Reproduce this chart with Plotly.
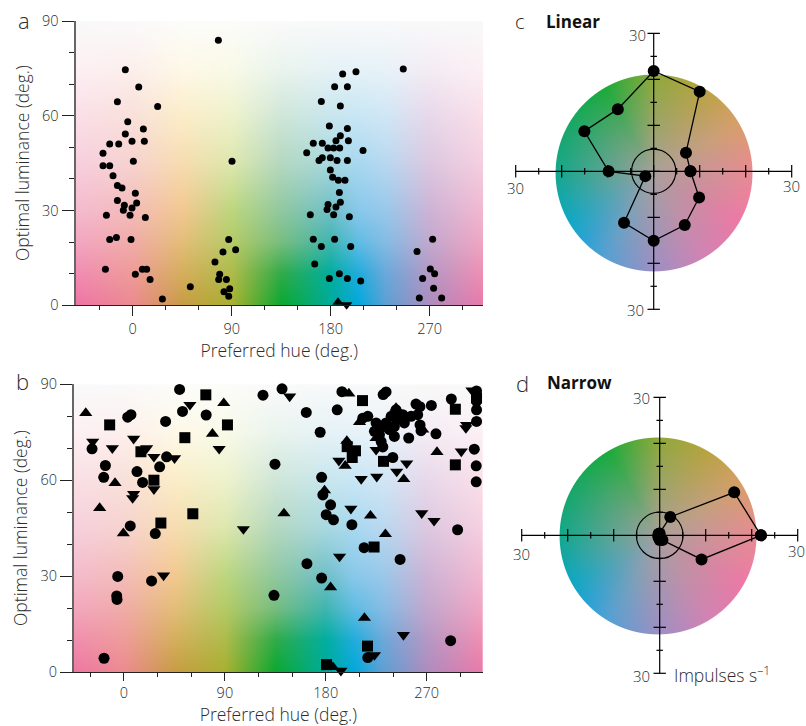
import numpy as np
import plotly.graph_objects as go

W, H = 806, 726
FONT = "Open Sans"
TXT = "#2c2c2c"

# Panel a
a_circle_x = [-6.7,5.5,-13.9,22.7,-4.5,9.7,-6.7,-0.6,10.6,-20.9,-12.7,-27,-27,-20.9,0.6,-17.9,-13.9,-9.7,2.4,-13.9,-7.6,3.6,-0.6,-8.5,-2.4,-23.9,11.5,-20.9,-14.8,-1.5,-24.8,2.4,8.8,12.7,15.8,27,
  77.9,90.3,87.3,93.6,82.1,74.8,79.1,78.2,85.2,88.2,83,87.3,52.4,
  203,190.9,183.6,195.2,171.5,188.8,178.8,195.2,188.8,184.8,196.1,164.2,172.4,177.6,182.7,188.2,209.4,158.2,172.4,179.7,169.4,185.8,195.2,179.7,181.8,187,193,187.9,188.8,177.6,176.7,184.8,182.7,161.5,197,164.2,183.6,171.5,198.2,165.5,187.9,178.8,195.2,207.3,
  246,272.7,258.5,270.6,274.5,263.6,273.6,260.6,280.9]
a_circle_y = [74.6,69.1,64.4,62.9,58.1,55.8,54.2,51.9,51.9,51.1,51.1,48.1,44.2,44.2,45.6,41,37.9,37.1,35.5,33.2,31.7,32.4,30.8,30.1,28.5,28.5,27.8,20.8,21.5,20.8,11.4,9.8,11.4,11.4,8.2,2,
  83.9,45.6,20.8,17.6,16.9,13.7,9.8,8.2,8.2,5.2,4.3,2.9,5.9,
  73.9,73.2,69.2,69.2,64.5,63.1,56.8,56,53.7,52.1,52.1,51.3,51.3,49.8,49.8,49.8,49,48.3,46.7,46.7,45.8,45.8,45.8,42.8,40.5,39.6,39.6,35.7,32.6,31.9,30.3,31.1,28.7,28.7,28,20.9,20.9,18.6,18.6,13.1,10,8.5,8.5,7.7,
  74.8,20.9,17,11.5,10,8.5,5.4,2.3,2.3]
a_up_x, a_up_y = [186.7], [1]
a_down_x, a_down_y = [194.5], [0.2]

# Panel b
b_circle_x = [49.6,124,141,194.4,233.8,231.2,292,314.5,314.5,314.5,314.5,314.5,312.5,314.2,314.2,297.6,291.4,52.2,73.3,37.1,6.2,3.3,162.6,190.2,175,274.2,260.5,264,278.3,254,265,239.8,230.9,223.4,213,217.5,224.9,
  233.8,238.3,242.7,245.7,241.2,236.8,241.2,250.1,256.1,262,264.1,242.7,248.7,230.9,227.9,229.4,
  -28.5,-16.6,-18.1,11.6,16.6,31.8,38,5.6,27.9,-5.6,24.6,-6.5,-6.2,-17.8,134.7,176.3,177.4,184.3,180.4,186.9,203.3,214.2,246.3,163.2,176.3,133.8,217.5]
b_circle_y = [88.4,86.6,88.6,87.7,87.6,86.8,85.4,87.9,86.2,84.7,82,78.4,69.7,64.5,59.5,44.5,9.8,81.5,80.4,78.4,80.5,79.7,81.2,82,75,83.4,83.8,83,74.5,73.2,75.5,67.1,70.4,75.3,79.4,80,77.9,
  77.9,80,82,79.4,76.8,75.8,73.7,77.9,80,80.5,77.3,79.4,80.5,76.8,74.2,72.1,
  69.8,64.6,60.9,62.7,59.3,64.2,67.3,45.7,43.3,29.9,28.5,23.8,22.7,4.3,65,60.9,55.4,52.3,49.2,47.6,46.1,38.9,35.2,33.9,29.4,24,4.5]
b_square_x = [73,212.8,295.6,-12.8,92.3,54.3,15.1,26.7,61.4,32.9,199.1,206.5,203.6,231.5,295.6,223.1,217.2,180.7,314.5]
b_square_y = [86.7,84.9,82.2,77.3,77.3,73.3,68.9,60,49.5,46.6,70.5,69.2,67.1,65.9,64.8,39.1,8.1,2.3,85.7]
b_up_x = [-34.1,89,78.9,-8,-21.7,-0.6,142.7,200.6,210.1,198.8,197.3,178.9,279.2,249.6,219.9,233.2,184.3,214.5,186.4,242.7,266.5,224.9]
b_up_y = [81,84.1,74.5,59.1,51.3,43.4,49.6,87.1,78.2,72.3,64.5,56.8,68.8,60.3,48.9,43.1,26.5,16.9,1.5,82.6,75.8,73.2]
b_down_x = [58.8,147.8,310.4,305,-27.9,-10.4,8.6,20.2,26.7,45.1,84.9,8.6,7.7,26.7,106.5,35.3,191.7,211.6,225.5,243.3,252.2,224.9,300.9,202.4,265.6,276.6,192.3,249.3,223.4,193.5,305.6]
b_down_y = [83.6,86.2,88.1,76.3,72.1,70,73,70,67.3,66.9,69.8,55.7,54.4,57.2,44.7,30.2,66.1,60.4,61.1,62.7,65.3,69.5,69,51.1,49.7,47.3,36.1,11.6,5.3,0.4,77.3]

# Polar tuning panels: response per hue direction
hue_deg = [0,30,60,90,120,150,180,210,240,270,300,330]
c_rate = [8,8.1,20,21.8,15.6,17.4,9.8,2.1,12.9,15.1,13.5,11.4]
d_rate = [22,18.7,4.6,0.4,0.4,0.3,0.2,0.3,0.5,1.0,1.2,10.5]
c_spont, d_spont = 4.8, 5.07

# Colour field behind panels a and b (hue by luminance)
bg_hue = [-52,0,45,90,135,180,205,230,270,320]
bg_lum = [0,10,20,30,45,60,75,90]
bg_cols = [
 ["#ee74a6","#ec8a90","#c79c44","#a9b030","#0aa830","#00ab9a","#00a8dc","#5c9fd4","#ad8cbe","#ec78a8"],
 ["#f08cb2","#ee9b98","#d5ae5c","#aebb4a","#30ab48","#00ae9f","#20acdc","#6aa8da","#b498c4","#f08eb2"],
 ["#f3a6c2","#f0aca8","#e4bd78","#b4cb66","#78bd80","#40b5b0","#60bce4","#84bce4","#c2a8ce","#f2a6c2"],
 ["#f4bad0","#f3bcb8","#f2c890","#bcd67e","#90c8a0","#70bfc8","#88c8ea","#98c8ea","#cdb3d5","#f3b8d0"],
 ["#f7cfdf","#f6d3cf","#f7dcb0","#dde7ad","#b4d8c0","#a8d8e0","#a8d8f0","#b8d8f0","#dcc8e0","#f6cfe0"],
 ["#fadfe8","#f9e0da","#fbedc8","#eef2cc","#cfe6d8","#c8e6ee","#c8e6f4","#d0e6f5","#e8d8ea","#fadfe8"],
 ["#fcf0f4","#fcefec","#fef8e8","#f8fae8","#eaf4ee","#e6f2f6","#e6f2f8","#e8f2f8","#f4ecf4","#fcf0f4"],
 ["#f9f9f9","#fafafa","#fcfcfa","#fcfcfa","#fafafa","#f9f9f9","#f9f9f9","#f9f9f9","#f9f9f9","#f9f9f9"],
]
# Colour wheel behind panels c and d
rim_deg = [0,30,60,90,120,150,180,210,225,240,270,300,330,360]
rim_cols = ["#e98a94","#d99e6a","#b8a340","#8ea83a","#1aab3a","#16a765","#12a78c","#0ea7c6","#2aa2d6","#55a0d4","#9c8fc4","#d282b4","#ee78a6","#e98a94"]
wheel_centre = "#a8a09c"

def rgb(h):
    h = h.lstrip("#")
    return [int(h[i:i+2], 16) for i in (0, 2, 4)]

def field_image(xr, w, h):
    grid = np.array([[rgb(c) for c in row] for row in bg_cols], float)
    xs = np.linspace(xr[0], xr[1], w, endpoint=False) + (xr[1]-xr[0])/w/2
    ys = (np.arange(h)+0.5)*90/h
    along = np.stack([[np.interp(xs, bg_hue, grid[j,:,k]) for k in range(3)] for j in range(len(bg_lum))])
    out = np.stack([[np.interp(ys, bg_lum, along[:,k,i]) for i in range(w)] for k in range(3)])
    return np.moveaxis(out, [0,1,2], [2,1,0]).round().astype(np.uint8), xs[0], ys[0], xs[1]-xs[0], ys[1]-ys[0]

def wheel_image(cx, cy, R, step):
    n = int(round(2*(R+1)/step))
    c = (np.arange(n)+0.5)*step-(R+1)
    X, Y = np.meshgrid(c, c)
    r = np.hypot(X, Y)/R
    th = np.degrees(np.arctan2(Y, X)) % 360
    rim = np.array([rgb(c_) for c_ in rim_cols], float)
    mid = np.array(rgb(wheel_centre), float)
    f = np.clip(r, 0, 1)[..., None]**0.9
    col = np.stack([np.interp(th, rim_deg, rim[:,k]) for k in range(3)], -1)
    out = mid + (col-mid)*f
    alpha = np.clip((1-r)*R/step+0.5, 0, 1)
    z = np.dstack([out.round(), alpha])
    return z, cx+c[0], cy+c[0], step

def dom(l, r, t, b):
    return [l/W, r/W], [1-b/H, 1-t/H]

fig = go.Figure()
AX = dict(showgrid=False, zeroline=False, fixedrange=True, automargin=False)

def cart_axes(n, px, xr, yr, xstand, xtick):
    xd, yd = dom(*px)
    fnt = dict(family=FONT, size=14.5, color=TXT, weight=300)
    tf = dict(family=FONT, size=17.5, color=TXT, weight=300)
    fig.update_layout({
      f"xaxis{n}": dict(AX, domain=xd, range=xr, anchor=f"y{n}", tick0=0, dtick=90, ticks="outside", ticklen=xtick, tickwidth=1, tickcolor="#222",
                        minor=dict(dtick=30, tick0=0, ticks="outside", ticklen=4, tickwidth=1, tickcolor="#222"),
                        showline=True, linecolor="#222", linewidth=1, tickfont=fnt,
                        title=dict(text="Preferred hue (deg.)", font=tf, standoff=xstand)),
      f"yaxis{n}": dict(AX, domain=yd, range=yr, anchor=f"x{n}", tick0=0, dtick=30, ticks="outside", ticklen=12, tickwidth=1, tickcolor="#222",
                        minor=dict(dtick=10, tick0=0, ticks="outside", ticklen=5, tickwidth=1, tickcolor="#222"),
                        showline=True, linecolor="#666", linewidth=2, tickfont=fnt, scaleanchor=False,
                        title=dict(text="Optimal luminance (deg.)", font=tf, standoff=8)),
    })

def field(n, xr, w, h):
    z, x0, y0, dx, dy = field_image(xr, w, h)
    fig.add_trace(go.Image(z=z, x0=x0, y0=y0, dx=dx, dy=dy, xaxis=f"x{n}", yaxis=f"y{n}", hoverinfo="skip"))

def marks(n, x, y, sym, size):
    fig.add_trace(go.Scatter(x=x, y=y, mode="markers", xaxis=f"x{n}", yaxis=f"y{n}", cliponaxis=False,
                             marker=dict(symbol=sym, size=size, color="black", line=dict(width=0))))

A_PX = (75.5, 483, 21, 305.3); A_XR = [-52, 318.5]
B_PX = (74, 482.7, 384.3, 672); B_XR = [-44.6, 320]
cart_axes(1, A_PX, A_XR, [0, 90], 2, 10)
cart_axes(2, B_PX, B_XR, [0, 90], 8, 8)
field(1, A_XR, 407, 284)
field(2, B_XR, 409, 288)
marks(1, a_circle_x, a_circle_y, "circle", 7)
marks(1, a_up_x, a_up_y, "triangle-up", 10)
marks(1, a_down_x, a_down_y, "triangle-down", 10)
marks(2, b_circle_x, b_circle_y, "circle", 11)
marks(2, b_square_x, b_square_y, "square", 11)
marks(2, b_up_x, b_up_y, "triangle-up", 11.5)
marks(2, b_down_x, b_down_y, "triangle-down", 11.5)

U = 4.6
def polar_panel(n, cx_px, cy_px, xr, yr, wheel_off, rate, spont, tick_lab):
    xd, yd = dom(cx_px+xr[0]*U, cx_px+xr[1]*U, cy_px-yr[1]*U, cy_px-yr[0]*U)
    fig.update_layout({
        f"xaxis{n}": dict(AX, domain=xd, range=xr, visible=False, anchor=f"y{n}"),
        f"yaxis{n}": dict(AX, domain=yd, range=yr, visible=False, anchor=f"x{n}", scaleanchor=False),
    })
    z, x0, y0, st = wheel_image(wheel_off[0], wheel_off[1], 21.4, 1/U)
    fig.add_trace(go.Image(z=z, colormodel="rgba", x0=x0, y0=y0, dx=st, dy=st, zmax=[255,255,255,1], zmin=[0,0,0,0],
                           xaxis=f"x{n}", yaxis=f"y{n}", hoverinfo="skip"))
    # cross with ticks
    hx, hy = [-30, 30, None], [0, 0, None]
    for v in range(-30, 31, 5):
        half = 1.35 if v % 10 == 0 else 0.7
        hx += [v, v, None, -half, half, None]
        hy += [-half, half, None, v, v, None]
    hx += [0, 0]; hy += [-30, 30]
    fig.add_trace(go.Scatter(x=hx, y=hy, mode="lines", line=dict(color="black", width=1.2), xaxis=f"x{n}", yaxis=f"y{n}", hoverinfo="skip"))
    t = np.radians(np.array(hue_deg+[hue_deg[0]]))
    r = np.array(rate+[rate[0]])
    fig.add_trace(go.Scatter(x=r*np.cos(t), y=r*np.sin(t), mode="lines+markers", line=dict(color="black", width=1.3),
                             marker=dict(symbol="circle", size=12, color="black"), xaxis=f"x{n}", yaxis=f"y{n}", cliponaxis=False))
    fig.add_shape(type="circle", xref=f"x{n}", yref=f"y{n}", x0=-spont, x1=spont, y0=-spont, y1=spont, line=dict(color="black", width=1.2))
    for (x, y) in tick_lab:
        fig.add_annotation(x=x, y=y, xref=f"x{n}", yref=f"y{n}", text="30", showarrow=False,
                           font=dict(family=FONT, size=15, color=TXT, weight=300))

polar_panel(3, 653.7, 171.3, [-33, 33], [-33, 33], (0, -0.3), c_rate, c_spont,
            [(-3.6, 29.6), (-30, -3.6), (30, -3.2), (-3.9, -30.1)])
polar_panel(4, 659.7, 535.3, [-33, 31.5], [-33, 33], (-0.3, -0.2), d_rate, d_spont,
            [(-3.9, 29.8), (-30, -4), (29.8, -3.4), (-3.9, -30.5)])

def label(txt, x, y, size=20, bold=False, anchor="center"):
    fig.add_annotation(x=x/W, y=1-y/H, xref="paper", yref="paper", text=txt, showarrow=False, xanchor=anchor, yanchor="middle",
                       font=dict(family=FONT, size=size, color="#111" if bold else TXT, weight=700 if bold else 300))

label("a", 24, 20, 22); label("b", 22, 381, 22); label("c", 520, 22, 20); label("d", 522, 383, 22)
label("Linear", 544, 22, 17, True, "left")
label("Narrow", 545, 383, 17, True, "left")
label("Impulses s<sup>–1</sup>", 672, 674, 17.5, False, "left")

fig.update_layout(width=W, height=H, margin=dict(l=0, r=0, t=0, b=0), showlegend=False,
                  paper_bgcolor="white", plot_bgcolor="white")
fig.write_html("out.html", post_script="document.body.style.margin='0';", config=dict(displayModeBar=False))
